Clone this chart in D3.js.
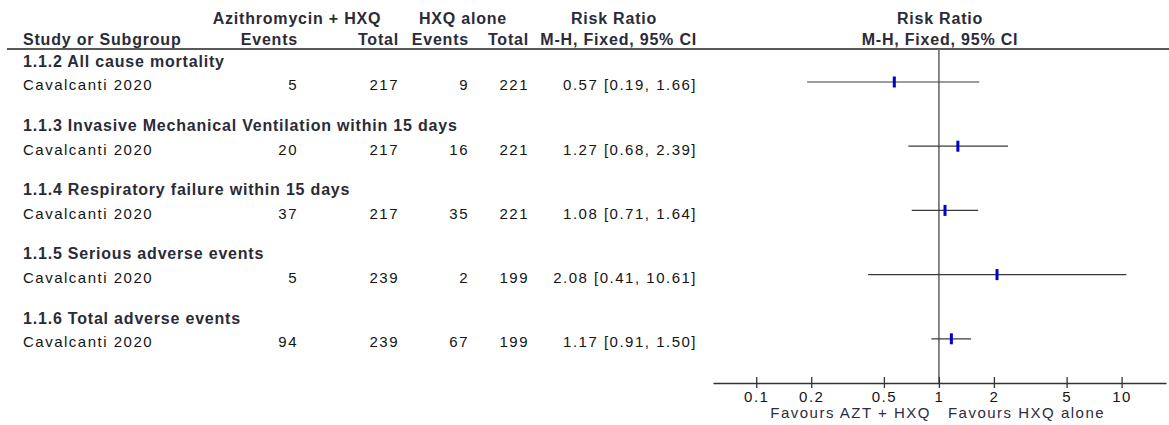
<!DOCTYPE html>
<html>
<head>
<meta charset="utf-8">
<script src="https://cdn.jsdelivr.net/npm/d3@7"></script>
<style>
  html, body { margin: 0; padding: 0; background: #fff; }
  svg { display: block; }
  text { font-family: "Liberation Sans", Arial, sans-serif; font-size: 15px; letter-spacing: 1.5px; }
  .hd { font-weight: bold; fill: #2b2b38; font-size: 16px; letter-spacing: 0.8px; }
  .tx { fill: #141414; }
</style>
</head>
<body>
<svg id="chart" width="1169" height="425"></svg>
<script>
// ---- data ----
const subgroups = [
  "1.1.2 All cause mortality",
  "1.1.3 Invasive Mechanical Ventilation within 15 days",
  "1.1.4 Respiratory failure within 15 days",
  "1.1.5 Serious adverse events",
  "1.1.6 Total adverse events"
];
const studies = ["Cavalcanti 2020", "Cavalcanti 2020", "Cavalcanti 2020", "Cavalcanti 2020", "Cavalcanti 2020"];
const expEvents = [5, 20, 37, 5, 94];
const expTotal = [217, 217, 217, 239, 239];
const ctrlEvents = [9, 16, 35, 2, 67];
const ctrlTotal = [221, 221, 221, 199, 199];
const rr = [0.57, 1.27, 1.08, 2.08, 1.17];
const ciLow = [0.19, 0.68, 0.71, 0.41, 0.91];
const ciHigh = [1.66, 2.39, 1.64, 10.61, 1.50];
const tickValues = [0.1, 0.2, 0.5, 1, 2, 5, 10];
const tickLabels = ["0.1", "0.2", "0.5", "1", "2", "5", "10"];
const favoursLeft = "Favours AZT + HXQ";
const favoursRight = "Favours HXQ alone";

const svg = d3.select("#chart");

// scales
const x = d3.scaleLog().domain([0.058, 17.5]).range([713, 1166]);
const yRow = d3.scaleLinear().domain([0, 1]).range([61, 125.2]); // subgroup title centre by index
const studyOffset = 24;
const ciOffset = -3;

// ---- header ----
const h1 = 18, h2 = 39;
function txt(g, xx, yy, s, anchor, cls) {
  return g.append("text").attr("x", xx).attr("y", yy).attr("dy", "0.36em")
    .attr("text-anchor", anchor).attr("class", cls).text(s);
}
txt(svg, 297, h1, "Azithromycin + HXQ", "middle", "hd");
txt(svg, 463, h1, "HXQ alone", "middle", "hd");
txt(svg, 614, h1, "Risk Ratio", "middle", "hd");
txt(svg, 940, h1, "Risk Ratio", "middle", "hd");
txt(svg, 23, h2, "Study or Subgroup", "start", "hd");
txt(svg, 298, h2, "Events", "end", "hd");
txt(svg, 399, h2, "Total", "end", "hd");
txt(svg, 469, h2, "Events", "end", "hd");
txt(svg, 529, h2, "Total", "end", "hd");
txt(svg, 697, h2, "M-H, Fixed, 95% CI", "end", "hd");
txt(svg, 940, h2, "M-H, Fixed, 95% CI", "middle", "hd");

svg.append("line").attr("x1", 7).attr("x2", 1169).attr("y1", 49).attr("y2", 49)
  .attr("stroke", "#222").attr("stroke-width", 1.6);

// ---- null line ----
svg.append("line").attr("x1", x(1)).attr("x2", x(1)).attr("y1", 49).attr("y2", 383)
  .attr("stroke", "#6a6a6a").attr("stroke-width", 1.6);

// ---- rows ----
const g = svg.append("g");
subgroups.forEach((s, i) => {
  const ys = yRow(i);
  const yt = ys + studyOffset;
  txt(g, 23, ys, s, "start", "hd");
  txt(g, 23, yt, studies[i], "start", "tx");
  txt(g, 298, yt, expEvents[i], "end", "tx");
  txt(g, 399, yt, expTotal[i], "end", "tx");
  txt(g, 469, yt, ctrlEvents[i], "end", "tx");
  txt(g, 529, yt, ctrlTotal[i], "end", "tx");
  txt(g, 697, yt, rr[i].toFixed(2) + " [" + ciLow[i].toFixed(2) + ", " + ciHigh[i].toFixed(2) + "]", "end", "tx");
  const yc = yt + ciOffset;
  g.append("line").attr("x1", x(ciLow[i])).attr("x2", x(ciHigh[i])).attr("y1", yc).attr("y2", yc)
    .attr("stroke", "#3a3a3a").attr("stroke-width", 1.2);
  g.append("rect").attr("x", x(rr[i]) - 1.5).attr("y", yc - 5.5).attr("width", 3).attr("height", 11)
    .attr("fill", "#0000cc");
});

// ---- axis ----
const axisY = 383;
const axis = d3.axisBottom(x).tickValues(tickValues)
  .tickFormat((d, i) => tickLabels[i]).tickSizeInner(5).tickSizeOuter(0).tickPadding(3);
const ag = svg.append("g").attr("transform", `translate(0,${axisY})`).call(axis);
ag.select(".domain").attr("stroke", "#333").attr("stroke-width", 1.6);
ag.selectAll(".tick line").attr("y1", -6).attr("y2", 5).attr("stroke", "#333").attr("stroke-width", 1.3);
ag.selectAll(".tick text").attr("font-family", null).attr("font-size", null)
  .style("font-size", "15px").style("fill", "#141414");

txt(svg, x(1) - 8, 413, favoursLeft, "end", "tx").style("fill", "#2b2b45");
txt(svg, x(1) + 9, 413, favoursRight, "start", "tx").style("fill", "#2b2b45");
</script>
</body>
</html>
